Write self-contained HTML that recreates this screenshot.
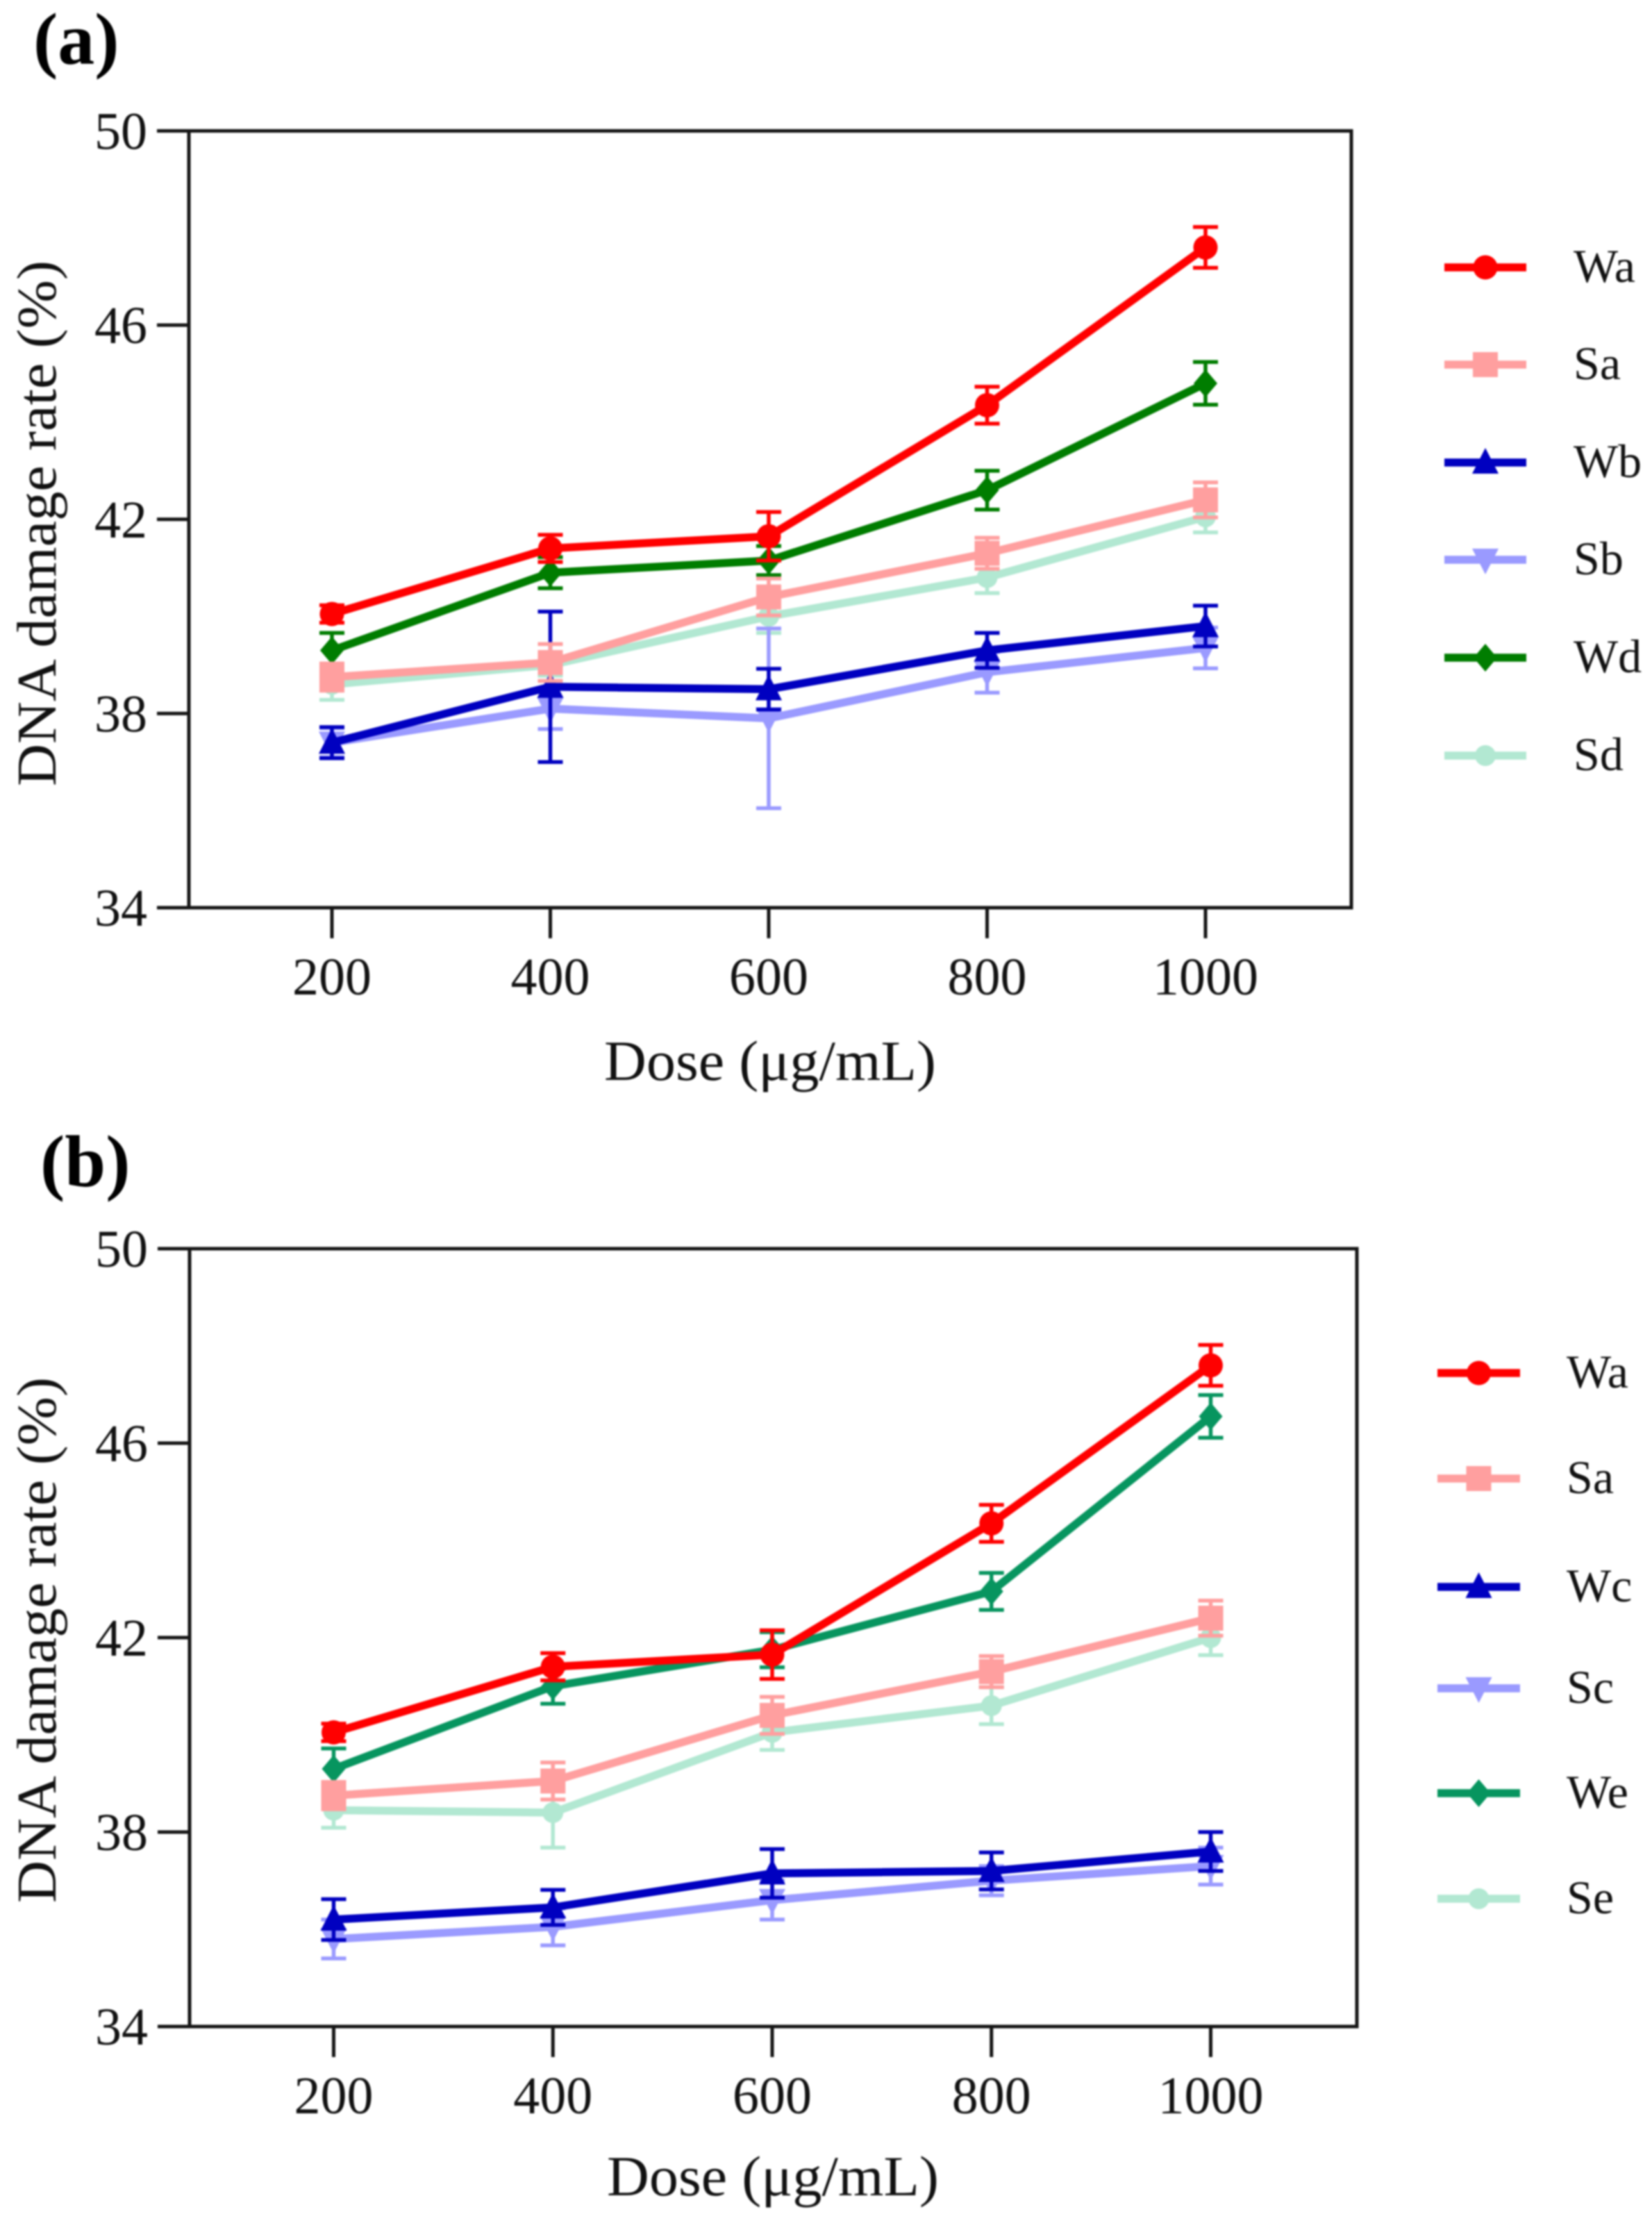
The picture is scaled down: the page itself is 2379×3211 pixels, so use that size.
<!DOCTYPE html>
<html lang="en">
<head>
<meta charset="utf-8">
<title>DNA damage rate vs dose</title>
<style>
html,body{margin:0;padding:0;background:#fff;width:2379px;height:3211px;overflow:hidden}
svg{display:block;filter:blur(1.2px)}
text{font-family:"Liberation Serif","DejaVu Serif",serif;fill:#111}
</style>
</head>
<body>
<svg id="figure" xmlns="http://www.w3.org/2000/svg" width="2379" height="3211" viewBox="0 0 2379 3211">
<rect x="0" y="0" width="2379" height="3211" fill="#fff"/>
<text x="48" y="92" font-size="106" font-weight="bold" style="fill:#000">(a)</text>
<text x="58" y="1708" font-size="106" font-weight="bold" style="fill:#000">(b)</text>
<text x="870" y="1555" font-size="82" textLength="478" lengthAdjust="spacingAndGlyphs">Dose (μg/mL)</text>
<text x="874" y="3161" font-size="82" textLength="478" lengthAdjust="spacingAndGlyphs">Dose (μg/mL)</text>
<text transform="translate(80 1132) rotate(-90)" font-size="80" textLength="757" lengthAdjust="spacingAndGlyphs">DNA damage rate (%)</text>
<text transform="translate(80 2740) rotate(-90)" font-size="80" textLength="757" lengthAdjust="spacingAndGlyphs">DNA damage rate (%)</text>
</svg>
<script>
var doses = [200, 400, 600, 800, 1000];
var yTicks = [34, 38, 42, 46, 50];

var waValues = [40.05, 41.4, 41.65, 44.35, 47.6];
var waErrors = [0.18, 0.28, 0.5, 0.38, 0.42];
var saValues = [38.75, 39.05, 40.4, 41.3, 42.4];
var saErrors = [0.28, 0.38, 0.38, 0.32, 0.36];

var wbValues = [37.4, 38.55, 38.5, 39.3, 39.8];
var wbErrors = [0.32, 1.55, 0.42, 0.36, 0.42];
var sbValues = [37.4, 38.1, 37.9, 38.85, 39.35];
var sbErrors = [0.3, 0.42, 1.85, 0.42, 0.42];
var wdValues = [39.3, 40.9, 41.15, 42.6, 44.8];
var wdErrors = [0.36, 0.32, 0.3, 0.4, 0.44];
var sdValues = [38.6, 39.0, 40.0, 40.8, 42.05];
var sdErrors = [0.32, 0.22, 0.34, 0.32, 0.32];

var wcValues = [36.2, 36.45, 37.15, 37.2, 37.6];
var wcErrors = [0.42, 0.36, 0.5, 0.38, 0.4];
var scValues = [35.8, 36.05, 36.6, 37.0, 37.3];
var scErrors = [0.4, 0.38, 0.4, 0.3, 0.38];
var weValues = [39.3, 41.0, 41.75, 42.95, 46.55];
var weErrors = [0.42, 0.36, 0.36, 0.38, 0.44];
var seValues = [38.45, 38.4, 40.05, 40.6, 42.0];
var seErrors = [0.36, 0.72, 0.36, 0.38, 0.36];

var RED = '#ff0000', PINK = '#ff9f9f', NAVY = '#0000c0', LILAC = '#9a9aff',
    GREEN = '#007d00', TEAL = '#07955f', MINT = '#b2e8d2';

var panelA = {
  key: 'a', xAt200: 478, xAt1000: 1736, yAt50: 188.5, yAt34: 1307, left: 272, right: 1946,
  legendX1: 2080, legendX2: 2198, legendText: 2266,
  legendY: [385, 525, 666, 806, 947, 1088],
  series: [
    {name: 'Wa', shape: 'circle', color: RED, values: waValues, errors: waErrors},
    {name: 'Sa', shape: 'square', color: PINK, values: saValues, errors: saErrors},
    {name: 'Wb', shape: 'up', color: NAVY, values: wbValues, errors: wbErrors},
    {name: 'Sb', shape: 'down', color: LILAC, values: sbValues, errors: sbErrors},
    {name: 'Wd', shape: 'diamond', color: GREEN, values: wdValues, errors: wdErrors},
    {name: 'Sd', shape: 'smallCircle', color: MINT, values: sdValues, errors: sdErrors}
  ]
};
var panelB = {
  key: 'b', xAt200: 480.5, xAt1000: 1743.5, yAt50: 1798, yAt34: 2918, left: 273, right: 1954,
  legendX1: 2070, legendX2: 2189, legendText: 2256,
  legendY: [1977, 2129, 2285, 2431, 2582, 2734],
  series: [
    {name: 'Wa', shape: 'circle', color: RED, values: waValues, errors: waErrors},
    {name: 'Sa', shape: 'square', color: PINK, values: saValues, errors: saErrors},
    {name: 'Wc', shape: 'up', color: NAVY, values: wcValues, errors: wcErrors},
    {name: 'Sc', shape: 'down', color: LILAC, values: scValues, errors: scErrors},
    {name: 'We', shape: 'diamond', color: TEAL, values: weValues, errors: weErrors},
    {name: 'Se', shape: 'smallCircle', color: MINT, values: seValues, errors: seErrors}
  ]
};

var SVG_NS = 'http://www.w3.org/2000/svg';
var figure = document.getElementById('figure');

function make(parent, tag, attrs) {
  var el = document.createElementNS(SVG_NS, tag);
  for (var k in attrs) { el.setAttribute(k, attrs[k]); }
  parent.appendChild(el);
  return el;
}

function drawMarker(parent, shape, cx, cy, color) {
  var el;
  if (shape === 'circle') {
    el = make(parent, 'circle', {cx: cx, cy: cy, r: 17.5, fill: color});
  } else if (shape === 'smallCircle') {
    el = make(parent, 'circle', {cx: cx, cy: cy, r: 15, fill: color});
  } else if (shape === 'square') {
    el = make(parent, 'rect', {x: cx - 18, y: cy - 18, width: 36, height: 36, fill: color});
  } else if (shape === 'up') {
    el = make(parent, 'polygon', {points: (cx - 19) + ',' + (cy + 16) + ' ' + (cx + 19) + ',' + (cy + 16) + ' ' + cx + ',' + (cy - 21), fill: color});
  } else if (shape === 'down') {
    el = make(parent, 'polygon', {points: (cx - 19) + ',' + (cy - 16) + ' ' + (cx + 19) + ',' + (cy - 16) + ' ' + cx + ',' + (cy + 21), fill: color});
  } else {
    el = make(parent, 'polygon', {points: cx + ',' + (cy - 20) + ' ' + (cx + 17) + ',' + cy + ' ' + cx + ',' + (cy + 20) + ' ' + (cx - 17) + ',' + cy, fill: color});
  }
  
  
}

function drawPanel(panel) {
  function xScale(dose) {
    return panel.xAt200 + (dose - doses[0]) / (doses[doses.length - 1] - doses[0]) * (panel.xAt1000 - panel.xAt200);
  }
  function yScale(value) {
    return panel.yAt34 + (value - yTicks[0]) / (yTicks[yTicks.length - 1] - yTicks[0]) * (panel.yAt50 - panel.yAt34);
  }
  var root = make(figure, 'g', {});
  
  

  var frame = make(root, 'rect', {x: panel.left, y: panel.yAt50, width: panel.right - panel.left, height: panel.yAt34 - panel.yAt50, fill: 'none', stroke: '#151515', 'stroke-width': 5});
  
  

  yTicks.forEach(function (t) {
    var tick = make(root, 'line', {x1: panel.left - 46, x2: panel.left, y1: yScale(t), y2: yScale(t), stroke: '#151515', 'stroke-width': 5});
    
    
    var label = make(root, 'text', {x: panel.left - 60, y: yScale(t) + 26, 'font-size': 76, 'text-anchor': 'end'});
    label.textContent = String(t);
    
    
  });

  doses.forEach(function (d) {
    var tick = make(root, 'line', {x1: xScale(d), x2: xScale(d), y1: panel.yAt34, y2: panel.yAt34 + 44, stroke: '#151515', 'stroke-width': 5});
    
    
    var label = make(root, 'text', {x: xScale(d), y: panel.yAt34 + 125, 'font-size': 76, 'text-anchor': 'middle'});
    label.textContent = String(d);
    
    
  });

  var drawOrder = [5, 4, 3, 2, 1, 0];
  drawOrder.forEach(function (idx) {
    var s = panel.series[idx];
    var group = make(root, 'g', {});
    
    
    s.values.forEach(function (v, i) {
      var x = xScale(doses[i]);
      var hi = yScale(v + s.errors[i]);
      var lo = yScale(v - s.errors[i]);
      var bar = make(group, 'path', {d: 'M' + x + ' ' + hi + 'V' + lo + 'M' + (x - 18) + ' ' + hi + 'H' + (x + 18) + 'M' + (x - 18) + ' ' + lo + 'H' + (x + 18), fill: 'none', stroke: s.color, 'stroke-width': 5.5});
      
      
    });
    var pts = s.values.map(function (v, i) { return xScale(doses[i]) + ',' + yScale(v); }).join(' ');
    var line = make(group, 'polyline', {points: pts, fill: 'none', stroke: s.color, 'stroke-width': 11.5, 'stroke-linejoin': 'round'});
    
    
    s.values.forEach(function (v, i) {
      drawMarker(group, s.shape, xScale(doses[i]), yScale(v), s.color);
    });
  });

  panel.series.forEach(function (s, i) {
    var y = panel.legendY[i];
    var entry = make(root, 'g', {});
    
    
    var line = make(entry, 'line', {x1: panel.legendX1, x2: panel.legendX2, y1: y, y2: y, stroke: s.color, 'stroke-width': 11.5});
    
    
    drawMarker(entry, s.shape, (panel.legendX1 + panel.legendX2) / 2, y, s.color);
    var label = make(entry, 'text', {x: panel.legendText, y: y + 21, 'font-size': 68});
    label.textContent = s.name;
    
    
  });
}

drawPanel(panelA);
drawPanel(panelB);
</script>
</body>
</html>
